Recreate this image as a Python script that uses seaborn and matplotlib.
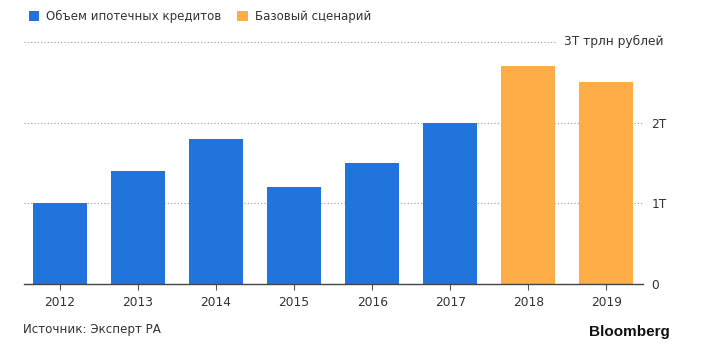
import matplotlib
matplotlib.use("Agg")
import matplotlib.pyplot as plt
import seaborn as sns
import pandas as pd
from matplotlib.patches import Patch

years = ["2012", "2013", "2014", "2015", "2016", "2017", "2018", "2019"]
values = [1.0, 1.4, 1.8, 1.2, 1.5, 2.0, 2.7, 2.5]
series = ["Объем ипотечных кредитов"] * 6 + ["Базовый сценарий"] * 2
series_names = ["Объем ипотечных кредитов", "Базовый сценарий"]
colors = ["#2274DD", "#FFAE47"]
y_ticks = [0, 1, 2, 3]
y_labels = ["0", "1T", "2T", "3T трлн рублей"]
source = "Источник: Эксперт РА"

sns.set_theme(style="white")
plt.rcParams["font.family"] = ["DejaVu Sans"]

df = pd.DataFrame({"year": years, "value": values, "series": series})

fig = plt.figure(figsize=(7.02, 3.52), dpi=100)
ax = fig.add_axes([24 / 702, (352 - 284) / 352, (643 - 24) / 702, (284 - 20) / 352])

sns.barplot(data=df, x="year", y="value", hue="series", hue_order=series_names,
            palette=colors, dodge=False, width=0.69, legend=False, ax=ax,
            saturation=1, edgecolor="none", zorder=3)

ax.set_xlim(-0.46, 7.47)
ax.set_ylim(0, 3.27)
for s in ["top", "left", "right"]:
    ax.spines[s].set_visible(False)
ax.spines["bottom"].set_color("#444444")
ax.spines["bottom"].set_linewidth(1)
ax.spines["bottom"].set_zorder(4)

ax.set_xlabel("")
ax.set_ylabel("")
ax.tick_params(axis="x", bottom=True, length=4, width=0.8, color="#555555",
               labelsize=8.8, labelcolor="#333333", pad=5)

ax.yaxis.tick_right()
ax.set_yticks(y_ticks[:3])
ax.set_yticklabels(y_labels[:3])
ax.tick_params(axis="y", right=False, length=0, labelsize=8.8,
               labelcolor="#333333", pad=6)

for t in y_ticks[1:3]:
    ax.axhline(t, color="#999999", lw=0.8, ls=(0, (1, 2)), zorder=1)
ax.axhline(y_ticks[3], xmin=0, xmax=(555 - 24) / 619, color="#999999", lw=0.8,
           ls=(0, (1, 2)), zorder=1)
ax.text(1.0 + 20 / 619, y_ticks[3], y_labels[3], transform=ax.get_yaxis_transform(),
        ha="right", va="center", fontsize=8.8, color="#333333")

handles = [Patch(facecolor=c, edgecolor="none") for c in colors]
fig.legend(handles, series_names, loc="upper left", bbox_to_anchor=(18 / 702, 1.0 + 1 / 352),
           ncol=2, frameon=False, fontsize=8.5, handlelength=0.9, handleheight=0.9,
           handletextpad=0.6, columnspacing=1.3, labelcolor="#333333")

fig.text(23 / 702, 1 - 330 / 352, source, fontsize=8.6, color="#333333", va="center")
fig.text(670 / 702, 1 - 332 / 352, "Bloomberg", fontsize=11, color="#111111",
         fontweight="bold", ha="right", va="center", family="Liberation Sans")

fig.savefig("out.png", dpi=100)
